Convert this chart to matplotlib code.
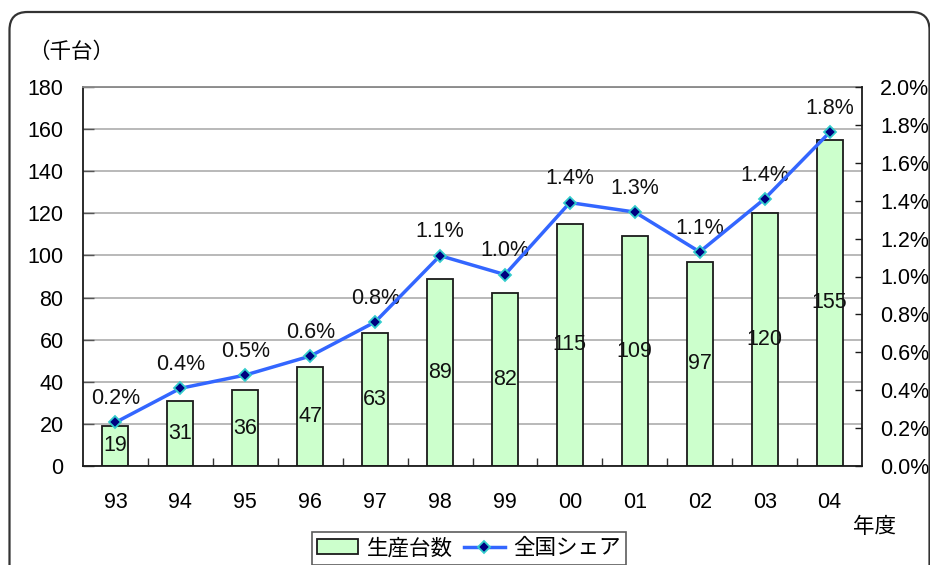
import matplotlib
matplotlib.use("Agg")
import matplotlib.pyplot as plt
from matplotlib.patches import FancyBboxPatch
from matplotlib.ticker import FixedLocator
from matplotlib.transforms import IdentityTransform

plt.rcParams['font.family'] = ['Liberation Sans', 'Noto Sans CJK JP', 'DejaVu Sans']

years = ["93", "94", "95", "96", "97", "98", "99", "00", "01", "02", "03", "04"]
production = [19, 31, 36, 47, 63, 89, 82, 115, 109, 97, 120, 155]
share = [0.23, 0.41, 0.48, 0.58, 0.76, 1.11, 1.01, 1.39, 1.34, 1.13, 1.41, 1.76]
left_ticks = [0, 20, 40, 60, 80, 100, 120, 140, 160, 180]
right_ticks = [0.0, 0.2, 0.4, 0.6, 0.8, 1.0, 1.2, 1.4, 1.6, 1.8, 2.0]

FS = 15.5
CJK = ["Noto Sans CJK JP", "DejaVu Sans"]

W, H = 930, 565
fig = plt.figure(figsize=(W / 100, H / 100), dpi=100)

# rounded outer frame in pixel units (runs past the right and bottom edges)
frame = FancyBboxPatch((9.5, -40), 920, H - 12 + 40,
                       boxstyle="round,pad=0,rounding_size=18",
                       transform=IdentityTransform(), fill=False,
                       edgecolor="#333333", linewidth=1.6, clip_on=False)
fig.patches.append(frame)

ax = fig.add_axes([83 / W, 1 - 466 / H, (862 - 83) / W, (466 - 87) / H])
x = list(range(len(years)))

bars = ax.bar(x, production, width=0.4, color="#ccffcc", edgecolor="#1a1a1a",
              linewidth=1.3, zorder=2, label="生産台数")
for xi, v in zip(x, production):
    ax.text(xi, v / 2, f"{v}", ha="center", va="center", fontsize=FS,
            color="#111111", zorder=5)

ax.set_xlim(-0.5, len(years) - 0.5)
ax.set_ylim(0, 180)
ax.yaxis.set_major_locator(FixedLocator(left_ticks))
ax.set_yticklabels([str(t) for t in left_ticks])
ax.grid(axis="y", color="#a6a6a6", linewidth=1.1, zorder=0)
ax.set_axisbelow(True)
ax.set_xticks(x)
ax.set_xticklabels(years)
ax.xaxis.set_minor_locator(FixedLocator([i + 0.5 for i in range(len(years) - 1)]))
ax.tick_params(axis="x", which="major", length=0, pad=19, labelsize=FS)
ax.tick_params(axis="x", which="minor", direction="in", length=6, width=1, color="#333333")
ax.tick_params(axis="y", direction="in", length=8, width=1, pad=14, labelsize=FS,
               color="#555555")
for s in ["left", "bottom", "top"]:
    ax.spines[s].set_color("#1a1a1a")
    ax.spines[s].set_linewidth(1.3)
ax.spines["top"].set_color("#888888")
ax.spines["right"].set_visible(False)

ax2 = ax.twinx()
ax2.set_ylim(0, 2.0)
ax2.yaxis.set_major_locator(FixedLocator(right_ticks))
ax2.set_yticklabels([f"{t:.1f}%" for t in right_ticks])
ax2.tick_params(axis="y", direction="in", length=5, width=1, pad=13, labelsize=FS,
                color="#1a1a1a")
ax2.spines["right"].set_color("#1a1a1a")
ax2.spines["right"].set_linewidth(1.3)
for s in ["left", "bottom", "top"]:
    ax2.spines[s].set_visible(False)
line, = ax2.plot(x, share, color="#3366ff", linewidth=2.5, marker="D",
                 markersize=6, markerfacecolor="#000080",
                 markeredgecolor="#33cccc", markeredgewidth=1.3, zorder=4,
                 label="全国シェア")
for xi, v in zip(x, share):
    ax2.text(xi, v + 0.07, f"{v:.1f}%", ha="center", va="bottom", fontsize=FS,
             color="#111111")

fig.text(28 / W, 1 - 52 / H, "（千台）", ha="left", va="center", fontsize=FS,
         family=CJK)
fig.text(853 / W, 1 - 527 / H, "年度", ha="left", va="center", fontsize=FS,
         family=CJK)

leg = fig.legend([bars, line], ["生産台数", "全国シェア"],
                 loc="upper left", bbox_to_anchor=(312 / W, 1 - 532 / H),
                 ncol=2, frameon=True, fancybox=False, edgecolor="#333333",
                 handlelength=1.9, handletextpad=0.4,
                 columnspacing=0.5, borderpad=0.25, borderaxespad=0,
                 prop={"family": CJK, "size": FS})
leg.get_frame().set_linewidth(1.2)

fig.savefig("out.png", dpi=100)
